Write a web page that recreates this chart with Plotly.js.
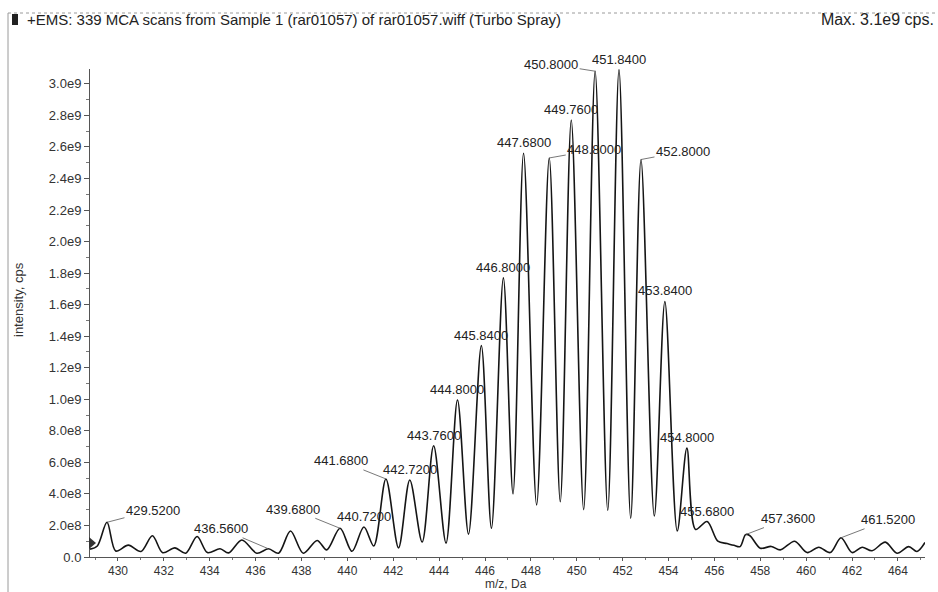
<!DOCTYPE html>
<html>
<head>
<meta charset="utf-8">
<script src="https://cdn.plot.ly/plotly-3.0.1.min.js"></script>
<style>
html,body{margin:0;padding:0;background:#fff;}
#chart{width:938px;height:592px;}
</style>
</head>
<body>
<div id="chart"></div>
<script>
// ---- data ----
var mz = [428.78,429.10,429.52,429.90,430.45,431.00,431.50,431.95,432.48,432.95,
          433.45,433.90,434.45,434.82,435.40,436.05,436.56,437.00,437.52,438.08,
          438.68,439.10,439.68,440.20,440.72,441.15,441.68,442.23,442.72,443.26,
          443.76,444.30,444.80,445.28,445.84,446.28,446.80,447.22,447.68,448.25,
          448.80,449.28,449.76,450.30,450.80,451.35,451.84,452.35,452.80,453.38,
          453.84,454.38,454.80,455.18,455.68,456.15,456.55,456.85,457.12,457.36,
          457.55,458.00,458.48,458.87,459.50,460.04,460.55,461.05,461.52,462.00,
          462.44,462.87,463.45,463.96,464.47,464.83,465.18];
var intensity = [0.50e8,0.70e8,2.20e8,0.38e8,0.75e8,0.35e8,1.35e8,0.27e8,0.58e8,0.24e8,
          1.30e8,0.28e8,0.52e8,0.26e8,1.08e8,0.24e8,0.52e8,0.24e8,1.65e8,0.24e8,
          1.05e8,0.45e8,1.82e8,0.36e8,1.90e8,0.70e8,4.95e8,0.58e8,4.88e8,0.95e8,
          7.05e8,0.88e8,9.95e8,1.45e8,1.34e9,1.82e8,1.77e9,4.0e8,2.56e9,3.3e8,
          2.53e9,3.5e8,2.77e9,3.0e8,3.08e9,2.95e8,3.09e9,2.45e8,2.52e9,2.6e8,
          1.62e9,1.65e8,6.9e8,1.75e8,2.25e8,1.0e8,0.85e8,0.74e8,0.66e8,1.42e8,
          1.35e8,0.56e8,0.67e8,0.45e8,1.00e8,0.28e8,0.62e8,0.28e8,1.22e8,0.28e8,
          0.62e8,0.40e8,0.94e8,0.24e8,0.66e8,0.35e8,0.92e8];
var labelMz = [429.52,436.56,439.68,440.72,441.68,442.72,443.76,444.80,445.84,446.80,
               447.68,448.80,449.76,450.80,451.84,452.80,453.84,454.80,455.68,457.36,461.52];
var yTickVals = [0,2e8,4e8,6e8,8e8,1e9,1.2e9,1.4e9,1.6e9,1.8e9,2.0e9,2.2e9,2.4e9,2.6e9,2.8e9,3.0e9];
var yTickText = ["0.0","2.0e8","4.0e8","6.0e8","8.0e8","1.0e9","1.2e9","1.4e9","1.6e9","1.8e9",
                 "2.0e9","2.2e9","2.4e9","2.6e9","2.8e9","3.0e9"];
var titleText = "+EMS: 339 MCA scans from Sample 1 (rar01057) of rar01057.wiff (Turbo Spray)";
var maxText = "Max. 3.1e9 cps.";
var xTitle = "m/z, Da";
var yTitle = "intensity, cps";

// ---- label leader offsets (px, text centre relative to peak); null = directly above ----
var labelOffsets = {
  "429.52":[46,-12], "436.56":[-47,-20], "439.68":[-47,-19], "441.68":[-45,-18],
  "448.8":[45,-8], "450.8":[-44,-7], "452.8":[42,-8], "457.36":[42,-16], "461.52":[47,-18]
};

var FONT = "Liberation Sans, Arial, sans-serif";
var W = 938, H = 592;
var L = 90, R = 925, T = 69, B = 557;
function px(x){ return (x - L) / (R - L); }
function py(y){ return (B - y) / (B - T); }

var trace = {
  x: mz, y: intensity, type: "scatter", mode: "lines",
  line: {color: "#151515", width: 1.6, shape: "spline", smoothing: 0.9},
  hoverinfo: "x+y"
};

var annotations = [];
labelMz.forEach(function(m){
  var idx = mz.indexOf(m);
  var yv = intensity[idx];
  var off = labelOffsets[String(m)];
  var a = {
    x: m, y: yv, xref: "x", yref: "y",
    text: m.toFixed(4),
    font: {family: FONT, size: 13, color: "#222"}
  };
  if (off) {
    a.showarrow = true; a.arrowhead = 0; a.arrowwidth = 0.8; a.arrowcolor = "#555";
    a.ax = off[0]; a.ay = off[1]; a.standoff = 0;
  } else {
    a.showarrow = false; a.yanchor = "bottom"; a.yshift = 1;
  }
  annotations.push(a);
});

annotations.push({
  xref: "paper", yref: "paper", x: px(25), y: py(20), xanchor: "left", yanchor: "middle",
  text: titleText, showarrow: false, font: {family: FONT, size: 15, color: "#222"}
});
annotations.push({
  xref: "paper", yref: "paper", x: px(936), y: py(20), xanchor: "right", yanchor: "middle",
  text: maxText, showarrow: false, font: {family: FONT, size: 16, color: "#222"}
});
annotations.push({
  xref: "paper", yref: "paper", x: px(506), y: py(592), xanchor: "center", yanchor: "bottom",
  text: xTitle, showarrow: false, borderpad: 0, font: {family: FONT, size: 12, color: "#333"}
});
annotations.push({
  xref: "paper", yref: "paper", x: px(18), y: py(300), xanchor: "center", yanchor: "middle",
  text: yTitle, textangle: -90, showarrow: false, font: {family: FONT, size: 13, color: "#333"}
});

var shapes = [
  {type: "line", xref: "paper", yref: "paper", x0: px(8), x1: px(938), y0: py(13), y1: py(13),
   line: {color: "#9a9a9a", width: 1, dash: "dot"}},
  {type: "line", xref: "paper", yref: "paper", x0: px(8), x1: px(8), y0: py(13), y1: py(592),
   line: {color: "#9a9a9a", width: 1}},
  {type: "rect", xref: "paper", yref: "paper", x0: px(12), x1: px(18), y0: py(14), y1: py(25),
   fillcolor: "#222", line: {width: 0}},
  {type: "path", xref: "paper", yref: "paper",
   path: "M " + px(89) + " " + py(537) + " L " + px(96) + " " + py(543) + " L " + px(89) + " " + py(549) + " Z",
   fillcolor: "#333", line: {width: 0}}
];

var layout = {
  width: W, height: H,
  margin: {l: L, r: W - R, t: T, b: H - B, pad: 0},
  paper_bgcolor: "#fff", plot_bgcolor: "#fff",
  showlegend: false,
  font: {family: FONT, size: 13, color: "#333"},
  xaxis: {
    range: [428.78, 465.18], showgrid: false, zeroline: false,
    showline: true, linecolor: "#555", linewidth: 1,
    ticks: "outside", ticklen: 3, tickcolor: "#555", tickwidth: 1,
    dtick: 2, tick0: 430,
    minor: {dtick: 1, tick0: 430, ticks: "outside", ticklen: 2, tickcolor: "#777", showgrid: false},
    tickfont: {family: FONT, size: 12, color: "#333"}
  },
  yaxis: {
    range: [0, 3.094e9], showgrid: false, zeroline: false,
    showline: true, linecolor: "#555", linewidth: 1,
    ticks: "outside", ticklen: 5, tickcolor: "#555", tickwidth: 1,
    tickmode: "array", tickvals: yTickVals, ticktext: yTickText,
    minor: {tickmode: "linear", dtick: 1e8, tick0: 0, ticks: "outside", ticklen: 3, tickcolor: "#777", showgrid: false},
    tickfont: {family: FONT, size: 13, color: "#333"}
  },
  annotations: annotations,
  shapes: shapes
};

Plotly.newPlot("chart", [trace], layout, {displayModeBar: false, staticPlot: true});
</script>
</body>
</html>
